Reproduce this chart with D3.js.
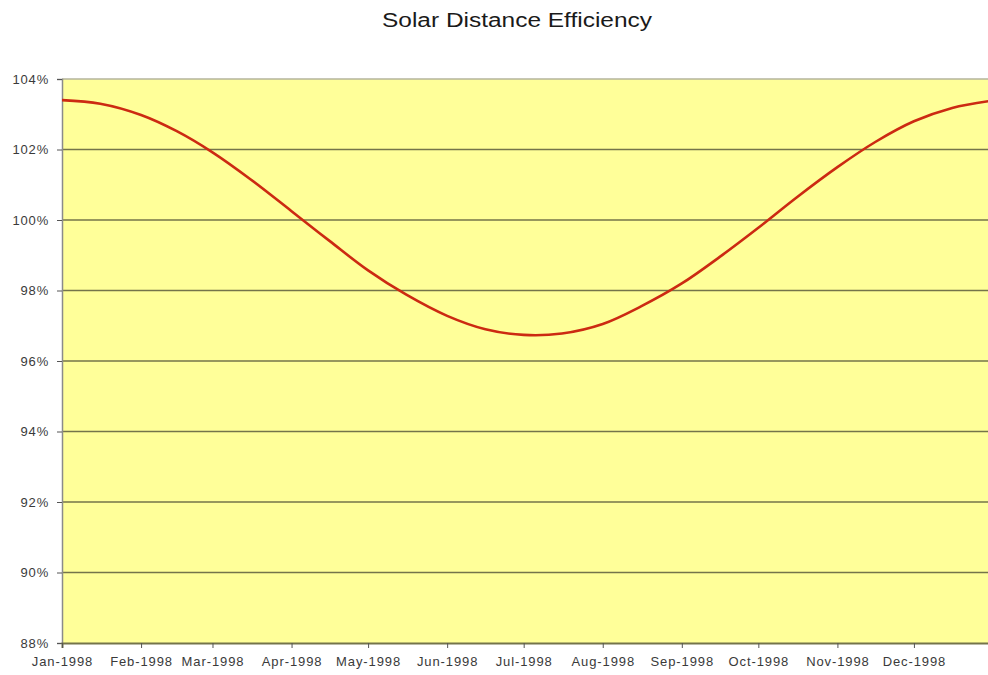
<!DOCTYPE html>
<html><head><meta charset="utf-8">
<script src="https://cdn.jsdelivr.net/npm/d3@7"></script>
<style>body{margin:0;background:#fff;} svg{display:block;}</style>
</head><body>
<script>
// Data
const dates = ["1998-01-01","1998-01-16","1998-02-01","1998-02-15","1998-03-01","1998-03-16","1998-04-01","1998-04-16","1998-05-01","1998-05-16","1998-06-01","1998-06-16","1998-07-01","1998-07-16","1998-08-01","1998-08-16","1998-09-01","1998-09-16","1998-10-01","1998-10-16","1998-11-01","1998-11-16","1998-12-01","1998-12-16","1998-12-31"];
const efficiency = [103.40,103.30,102.98,102.52,101.92,101.15,100.25,99.40,98.57,97.88,97.28,96.90,96.74,96.78,97.05,97.55,98.20,98.96,99.78,100.64,101.50,102.22,102.80,103.18,103.38];
const monthTicks = ["Jan-1998","Feb-1998","Mar-1998","Apr-1998","May-1998","Jun-1998","Jul-1998","Aug-1998","Sep-1998","Oct-1998","Nov-1998","Dec-1998"];
const yTicks = [88,90,92,94,96,98,100,102,104];

const W=988,H=675;
const m={left:62,top:79,bottom:643,right:993};
const parse=d3.timeParse("%Y-%m-%d");
const data=dates.map((d,i)=>({date:parse(d),v:efficiency[i]}));
const svg=d3.select("body").append("svg").attr("width",W).attr("height",H);
const FONT="Liberation Sans, Arial, sans-serif";

const x=d3.scaleTime().domain([parse("1998-01-01"),parse("1999-01-01")]).range([m.left,m.right]);
const y=d3.scaleLinear().domain([88,104]).range([m.bottom,m.top]);

svg.append("rect").attr("x",m.left).attr("y",m.top).attr("width",m.right-m.left).attr("height",m.bottom-m.top).attr("fill","#ffff99");

// gridlines
svg.append("g").selectAll("line").data(yTicks.filter(t=>t>88)).join("line")
 .attr("x1",m.left).attr("x2",m.right).attr("y1",d=>y(d)).attr("y2",d=>y(d))
 .attr("stroke",d=>d===104?"#b4b49c":"#74744a").attr("stroke-width",1.6);

// y axis
const yAxis=d3.axisLeft(y).tickValues(yTicks).tickFormat(d=>d+"%").tickSize(5).tickPadding(8);
const gy=svg.append("g").attr("transform",`translate(${m.left},0)`).call(yAxis);
gy.select(".domain").attr("stroke","#8a8a8a").attr("stroke-width",1.5);
gy.selectAll(".tick line").attr("stroke","#555");
gy.selectAll("text").attr("font-family",FONT).attr("font-size",13).attr("letter-spacing",0.8).attr("fill","#3a3a3a");

// x axis
const monthDates=monthTicks.map((t,i)=>new Date(1998,i,1));
const xAxis=d3.axisBottom(x).tickValues(monthDates).tickFormat((d,i)=>monthTicks[i]).tickSize(5).tickPadding(9);
const gx=svg.append("g").attr("transform",`translate(0,${m.bottom})`).call(xAxis);
gx.select(".domain").attr("stroke","#74744a").attr("stroke-width",2);
gx.selectAll(".tick line").attr("stroke","#555");
gx.selectAll("text").attr("font-family",FONT).attr("font-size",13).attr("letter-spacing",0.9).attr("fill","#3a3a3a");

// line
const line=d3.line().x(d=>x(d.date)).y(d=>y(d.v)).curve(d3.curveCatmullRom.alpha(0.5));
svg.append("path").datum(data).attr("d",line).attr("fill","none").attr("stroke","#cc2a12").attr("stroke-width",2.6);

// title
svg.append("text").attr("x",517).attr("y",27).attr("text-anchor","middle")
 .attr("font-family",FONT).attr("font-size",20).attr("fill","#1a1a1a")
 .attr("textLength",270).attr("lengthAdjust","spacingAndGlyphs").text("Solar Distance Efficiency");
</script>
</body></html>
